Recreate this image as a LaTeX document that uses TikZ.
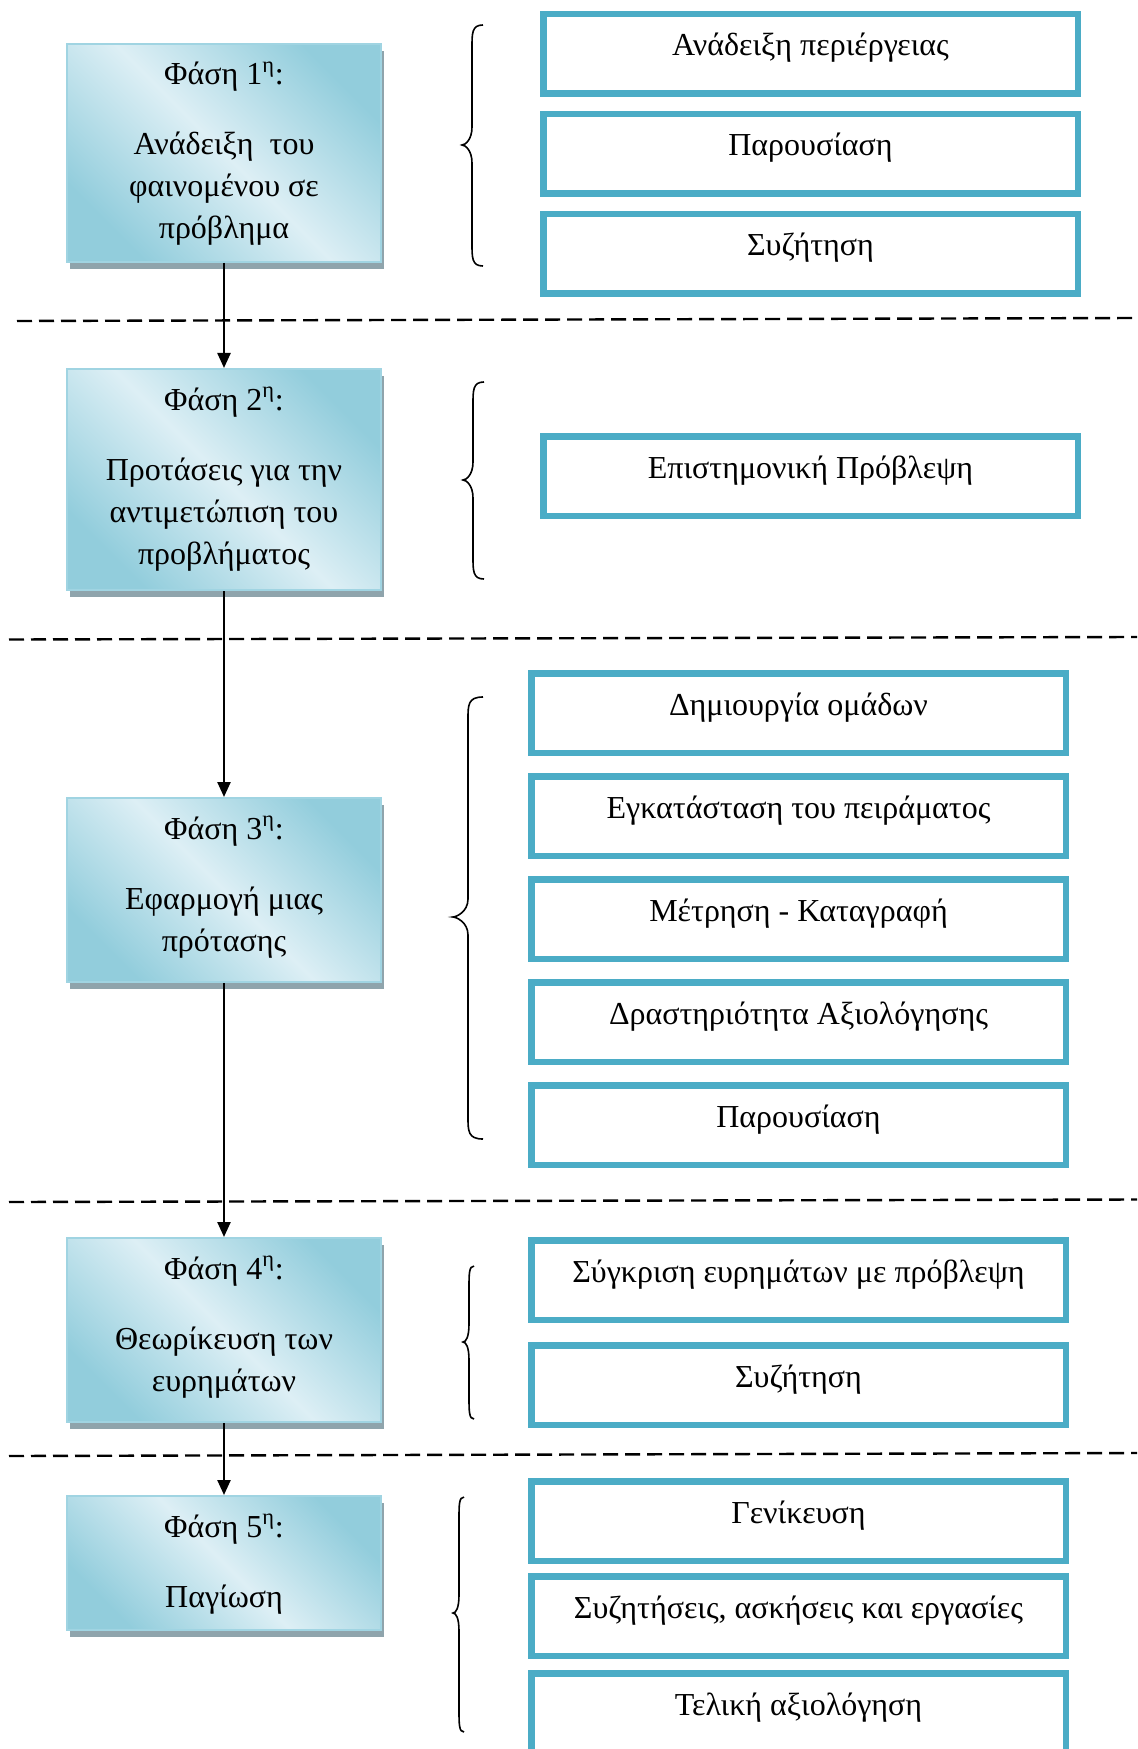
\documentclass[tikz,border=0pt]{standalone}
\usepackage{fontspec}
\setmainfont{Liberation Serif}
\usetikzlibrary{arrows.meta,shadows}

\definecolor{tealedge}{RGB}{75,172,198}
\definecolor{phasedark}{RGB}{146,205,220}
\definecolor{phaselight}{RGB}{221,239,245}
\definecolor{phaseedge}{RGB}{160,212,226}
\definecolor{phaseshadow}{RGB}{143,164,172}

% curly brace: #1 end x, #2 stem x, #3 tip x, #4 top y, #5 tip y, #6 bottom y
\newcommand\curlybrace[6]{%
  \draw[bracepath] (#1,#4) .. controls (#2,#4) and (#2,{#4+8}) .. (#2,{#4+22})
    -- (#2,{#5-18}) .. controls (#2,{#5-5}) and ({#3+3},#5) .. (#3,#5)
    .. controls ({#3+3},#5) and (#2,{#5+5}) .. (#2,{#5+18})
    -- (#2,{#6-22}) .. controls (#2,{#6-8}) and (#2,#6) .. (#1,#6);}

\begin{document}
\begin{tikzpicture}[x=0.5pt, y=-0.5pt,
  txt/.style={font=\fontsize{16pt}{21pt}\selectfont},
  phase/.style={rectangle, draw=phaseedge, line width=1pt, minimum width=157pt,
    inner sep=0pt, top color=phasedark, bottom color=phasedark,
    middle color=phaselight, shading angle=-45,
    drop shadow={shadow xshift=1.5pt, shadow yshift=-3.5pt, fill=phaseshadow, opacity=1}},
  phasetitle/.style={txt, anchor=base, inner sep=0pt},
  phasebody/.style={txt, anchor=base, align=center, inner sep=0pt},
  stepbox/.style={rectangle, draw=tealedge, line width=3.25pt, minimum width=267.25pt,
    minimum height=39.75pt, inner sep=0pt, txt, text height=8pt, text depth=6pt},
  arr/.style={line width=1.2pt, -{Triangle[length=7.5pt,width=6.5pt]}},
  divider/.style={line width=1.2pt, dash pattern=on 7.5pt off 3.5pt},
  bracepath/.style={line width=0.8pt}]

\useasboundingbox (0,0) rectangle (1137,1749);

% phase boxes
\node[phase, minimum height=109pt]   (p1) at (224,153) {};
\node[phase, minimum height=110.5pt] (p2) at (224,479.5) {};
\node[phase, minimum height=92pt]    (p3) at (224,890) {};
\node[phase, minimum height=92pt]    (p4) at (224,1330) {};
\node[phase, minimum height=67pt]    (p5) at (224,1563) {};

% titles sit on their baseline; bodies are anchored on the baseline of their last line
\node[phasetitle] (t1) at ([yshift=-21pt]p1.north) {Φάση 1\textsuperscript{η}:};
\node[phasebody]  (b1) at ([yshift=-98pt]p1.north) {Ανάδειξη\ \ του\\φαινομένου σε\\πρόβλημα};
\node[phasetitle] (t2) at ([yshift=-21pt]p2.north) {Φάση 2\textsuperscript{η}:};
\node[phasebody]  (b2) at ([yshift=-98pt]p2.north) {Προτάσεις για την\\αντιμετώπιση του\\προβλήματος};
\node[phasetitle] (t3) at ([yshift=-21pt]p3.north) {Φάση 3\textsuperscript{η}:};
\node[phasebody]  (b3) at ([yshift=-77pt]p3.north) {Εφαρμογή μιας\\πρότασης};
\node[phasetitle] (t4) at ([yshift=-21pt]p4.north) {Φάση 4\textsuperscript{η}:};
\node[phasebody]  (b4) at ([yshift=-77pt]p4.north) {Θεωρίκευση των\\ευρημάτων};
\node[phasetitle] (t5) at ([yshift=-21pt]p5.north) {Φάση 5\textsuperscript{η}:};
\node[phasebody]  (b5) at ([yshift=-56pt]p5.north) {Παγίωση};

% flow between phases
\draw[arr] (p1.south) -- (p2.north);
\draw[arr] (p2.south) -- (p3.north);
\draw[arr] (p3.south) -- (p4.north);
\draw[arr] (p4.south) -- (p5.north);

% dividers between phases
\draw[divider] (17,321) -- (1137,318);
\draw[divider] (9,639.5) -- (1137,637);
\draw[divider] (9,1202) -- (1137,1199.5);
\draw[divider] (9,1456) -- (1137,1453);

% activities of each phase
\node[stepbox] (s11) at (810.5,54)  {Ανάδειξη περιέργειας};
\node[stepbox] (s12) at (810.5,154) {Παρουσίαση};
\node[stepbox] (s13) at (810.5,254) {Συζήτηση};

\node[stepbox] (s21) at (810.5,476) {Επιστημονική Πρόβλεψη};

\node[stepbox] (s31) at (798.5,713)  {Δημιουργία ομάδων};
\node[stepbox] (s32) at (798.5,816)  {Εγκατάσταση του πειράματος};
\node[stepbox] (s33) at (798.5,919)  {Μέτρηση - Καταγραφή};
\node[stepbox] (s34) at (798.5,1022) {Δραστηριότητα Αξιολόγησης};
\node[stepbox] (s35) at (798.5,1125) {Παρουσίαση};

\node[stepbox] (s41) at (798.5,1280) {Σύγκριση ευρημάτων με πρόβλεψη};
\node[stepbox] (s42) at (798.5,1385) {Συζήτηση};

\node[stepbox] (s51) at (798.5,1521) {Γενίκευση};
\node[stepbox] (s52) at (798.5,1616) {Συζητήσεις, ασκήσεις και εργασίες};
\node[stepbox] (s53) at (798.5,1713) {Τελική αξιολόγηση};

% braces grouping the activities
\curlybrace{483}{472}{462}{25}{145}{266}
\curlybrace{484}{473}{463}{382}{480}{579}
\curlybrace{483}{468}{453}{697}{917}{1139}
\curlybrace{474}{469}{463}{1266}{1342}{1419}
\curlybrace{464}{459}{453}{1497}{1613}{1732}
\end{tikzpicture}
\end{document}
